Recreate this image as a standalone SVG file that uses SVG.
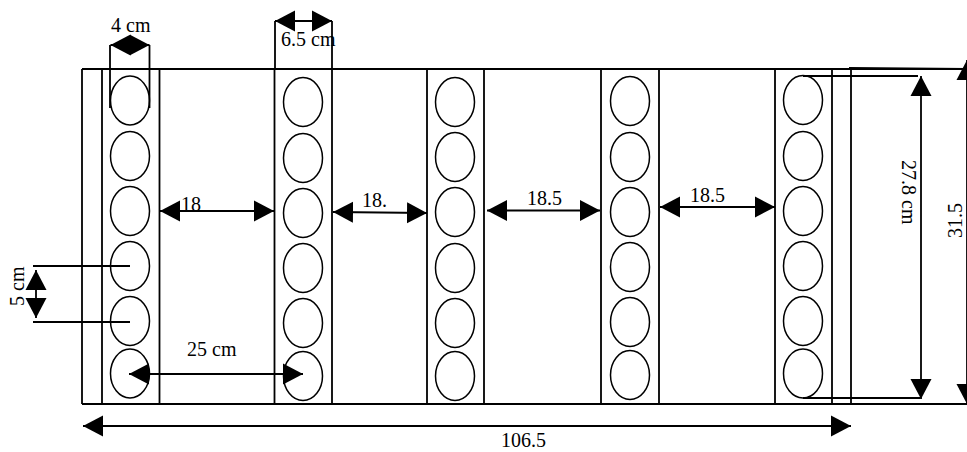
<svg xmlns="http://www.w3.org/2000/svg" width="967" height="452" viewBox="0 0 967 452">
<style>
.l{fill:none;stroke:#000;stroke-width:1.8}
.a{fill:none;stroke:#000;stroke-width:1.8;marker-start:url(#h);marker-end:url(#h)}
ellipse{fill:none;stroke:#000;stroke-width:1.5;rx:19.5px;ry:24.5px}
text{font-family:"Liberation Serif","Times New Roman",serif;font-size:20px;fill:#000}
</style>
<defs>
<marker id="h" markerUnits="userSpaceOnUse" markerWidth="21" markerHeight="22" refX="20" refY="11" orient="auto-start-reverse" viewBox="0 0 21 22"><path d="M0 0.5L20 11L0 21.5Z" fill="#000"/></marker>
</defs>
<rect width="967" height="452" fill="#fff"/>
<g id="frame">
<path class="l" d="M82 69H967M82 404H967M82 69V404M851 68V404M849 68L967 69"/>
</g>
<g id="strip-1">
<path class="l" d="M102 69V404M159.500 69V404"/>
<ellipse cx="130" cy="100.500"/><ellipse cx="130" cy="156"/><ellipse cx="130" cy="211"/><ellipse cx="130" cy="266"/><ellipse cx="130" cy="321"/><ellipse cx="130" cy="373.500"/>
</g>
<g id="strip-2">
<path class="l" d="M274.500 69V404M332 69V404"/>
<ellipse cx="303" cy="102"/><ellipse cx="303" cy="158"/><ellipse cx="303" cy="213"/><ellipse cx="303" cy="268"/><ellipse cx="303" cy="323"/><ellipse cx="303" cy="376"/>
</g>
<g id="strip-3">
<path class="l" d="M427 69V404M484 69V404"/>
<ellipse cx="455" cy="102"/><ellipse cx="455" cy="157"/><ellipse cx="455" cy="212"/><ellipse cx="455" cy="268"/><ellipse cx="455" cy="323"/><ellipse cx="455" cy="376"/>
</g>
<g id="strip-4">
<path class="l" d="M601 69V404M659 69V404"/>
<ellipse cx="630" cy="101"/><ellipse cx="630" cy="157"/><ellipse cx="630" cy="212"/><ellipse cx="630" cy="267"/><ellipse cx="630" cy="322"/><ellipse cx="630" cy="375"/>
</g>
<g id="strip-5">
<path class="l" d="M775 69V404M832 69V404"/>
<ellipse cx="803" cy="100"/><ellipse cx="803" cy="156"/><ellipse cx="803" cy="211"/><ellipse cx="803" cy="266"/><ellipse cx="803" cy="321"/><ellipse cx="803" cy="373.500"/>
</g>
<g id="connectors">
<path class="l" d="M110 45V108M149.500 45V108M275 21V69M332 21V69M33 266H130M33 322H130M803 76H918M803 398H920"/>
<path class="a" d="M110.500 45H149.500"/>
<path class="a" d="M275 21H332"/>
<path class="a" d="M160 211H274"/>
<path class="a" d="M333 212L427 213"/>
<path class="a" d="M487 210.500H600"/>
<path class="a" d="M660 207H775"/>
<path class="a" d="M129 374H303"/>
<path class="a" d="M36 270V318"/>
<path class="a" d="M83 426H851"/>
<path class="a" d="M921 76V399"/>
<path class="a" d="M967 60V404"/>
</g>
<g id="labels">
<text x="111" y="32">4 cm</text>
<text x="281" y="46">6.5 cm</text>
<text x="181" y="211">18</text>
<text x="362" y="207">18.</text>
<text x="527" y="205">18.5</text>
<text x="690" y="202">18.5</text>
<text x="187" y="356">25 cm</text>
<text x="501" y="447">106.5</text>
<text transform="translate(24 306) rotate(-90)">5 cm</text>
<text transform="translate(902 160) rotate(90)">27.8 cm</text>
<text transform="translate(962 238) rotate(-90)">31.5</text>
</g>
</svg>
